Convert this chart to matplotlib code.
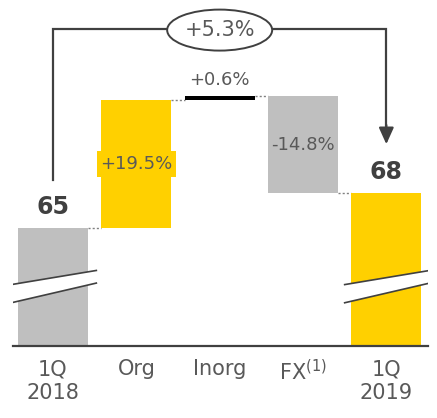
import numpy as np
import matplotlib.pyplot as plt
from matplotlib.patches import Ellipse, Polygon

# revenue bridge, 1Q 2018 -> 1Q 2019
categories = ["1Q\n2018", "Org", "Inorg", "FX$^{(1)}$", "1Q\n2019"]
start_value = 65
end_value = 68
change_pct = [19.5, 0.6, -14.8]  # Org, Inorg, FX
total_pct = 5.3

YELLOW = "#FFD000"
GRAY = "#BFBFBF"
TEXT = "#595959"
DARK = "#404040"

# cumulative levels for the waterfall steps
levels = [start_value]
for p in change_pct:
    levels.append(levels[-1] + start_value * p / 100)
end_level = levels[-1]

base = 53.32
fig = plt.figure(figsize=(4.37, 4.18), dpi=100)
ax = fig.add_axes([13 / 437, 1 - 346 / 418, 415 / 437, 346 / 418])
ax.set_xlim(-0.48, 4.5)
ax.set_ylim(base, 87.58)
ax.axis("off")

w = 0.84
x = np.arange(len(categories))

# totals
ax.bar(x[0], start_value - base, bottom=base, width=w, color=GRAY, zorder=2)
ax.bar(x[4], end_level - base, bottom=base, width=w, color=YELLOW, zorder=2)

# steps
step_colors = [YELLOW, "black", GRAY]
for i, p in enumerate(change_pct):
    lo, hi = sorted([levels[i], levels[i + 1]])
    ax.bar(x[i + 1], hi - lo, bottom=lo, width=w, color=step_colors[i], zorder=2)

# dotted connectors between bars
for i, y in enumerate(levels):
    ax.plot([x[i] + w / 2, x[i + 1] - w / 2], [y, y], color="#808080",
            lw=1, ls=(0, (1.5, 1.5)), zorder=1)

# baseline
ax.plot([-0.48, 4.5], [base, base], color=DARK, lw=1.6, zorder=3, clip_on=False)

# axis-break marks on the two total bars
for xc in (x[0], x[4]):
    xl, xr = xc - 0.5, xc + 0.52
    top_l, top_r = 59.4, 60.8
    bot_l, bot_r = 57.6, 59.55
    ax.add_patch(Polygon([[xl, top_l], [xr, top_r], [xr, bot_r], [xl, bot_l]],
                         closed=True, facecolor="white", edgecolor="none", zorder=4))
    ax.plot([xl, xr], [top_l, top_r], color=DARK, lw=1.2, zorder=5)
    ax.plot([xl, xr], [bot_l, bot_r], color=DARK, lw=1.2, zorder=5)

# value labels
ax.text(x[0], start_value + 0.9, f"{start_value}", ha="center", va="bottom",
        fontsize=17, fontweight="bold", color=DARK)
ax.text(x[4], end_level + 0.9, f"{end_value}", ha="center", va="bottom",
        fontsize=17, fontweight="bold", color=DARK)
ax.text(x[1], (levels[0] + levels[1]) / 2, f"+{change_pct[0]}%", ha="center",
        va="center", fontsize=13, color=TEXT, zorder=6,
        bbox=dict(boxstyle="square,pad=0.2", fc=YELLOW, ec="none"))
ax.text(x[2], levels[2] + 1.6, f"+{change_pct[1]}%", ha="center", va="center",
        fontsize=13, color=TEXT)
ax.text(x[3], (levels[2] + levels[3]) / 2, f"{change_pct[2]}%", ha="center",
        va="center", fontsize=13, color=TEXT, zorder=6)

# total growth bracket
yb = 84.7
ax.plot([x[0], x[0], x[4], x[4]], [69.75, yb, yb, 75.0], color=DARK, lw=1.6,
        zorder=3, solid_joinstyle="miter")
ax.annotate("", xy=(x[4], 73.3), xytext=(x[4], 75.2),
            arrowprops=dict(arrowstyle="-|>,head_width=0.45,head_length=1.0",
                            color=DARK, lw=1.6, shrinkA=0, shrinkB=0))
ax.add_patch(Ellipse((2, 84.6), 1.26, 4.06, facecolor="white", edgecolor=DARK,
                     lw=1.4, zorder=4))
ax.text(2, 84.6, f"+{total_pct}%", ha="center", va="center", fontsize=15,
        color=TEXT, zorder=5)

# category labels
for xi, lab in zip(x, categories):
    ax.text(xi, base - 1.3, lab, ha="center", va="top", fontsize=15,
            color=TEXT, linespacing=1.25)

fig.savefig("out.png", dpi=100)
